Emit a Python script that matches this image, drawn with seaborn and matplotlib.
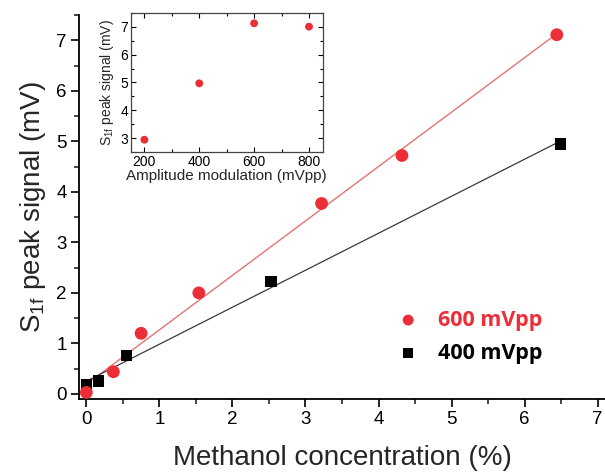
import matplotlib
matplotlib.use("Agg")
import matplotlib.pyplot as plt
import seaborn as sns
import numpy as np
import pandas as pd
from matplotlib.ticker import MultipleLocator

# ---- data ----
conc_600 = [0.0, 0.37, 0.75, 1.54, 3.22, 4.32, 6.44]
sig_600 = [0.03, 0.44, 1.2, 2.0, 3.77, 4.72, 7.11]
conc_400 = [0.0, 0.17, 0.55, 2.53, 6.49]
sig_400 = [0.19, 0.26, 0.76, 2.23, 4.95]
amp_mod = [200, 400, 600, 800]
amp_sig = [2.95, 4.97, 7.12, 7.0]
series_labels = ["600 mVpp", "400 mVpp"]
xticks_main = [0, 1, 2, 3, 4, 5, 6, 7]
yticks_main = [0, 1, 2, 3, 4, 5, 6, 7]
xticks_inset = [200, 400, 600, 800]
yticks_inset = [3, 4, 5, 6, 7]

RED = "#EC2F37"
RED_LINE = "#E87272"

sns.set_theme(style="ticks")
plt.rcParams['font.family'] = ['Liberation Sans', 'DejaVu Sans']
plt.rcParams['mathtext.fontset'] = 'custom'
plt.rcParams['mathtext.rm'] = 'Liberation Sans'

df600 = pd.DataFrame({"x": conc_600, "y": sig_600})
df400 = pd.DataFrame({"x": conc_400, "y": sig_400})
dfin = pd.DataFrame({"x": amp_mod, "y": amp_sig})

fig = plt.figure(figsize=(6.05, 4.75), dpi=100)
ax = fig.add_axes([0.1306, 0.16, 0.8694, 0.8084])

# fit lines
sns.regplot(data=df600, x="x", y="y", ax=ax, ci=None, scatter=False, truncate=True,
            line_kws=dict(color=RED_LINE, lw=1.0))
sns.regplot(data=df400, x="x", y="y", ax=ax, ci=None, scatter=False, truncate=True,
            line_kws=dict(color="#3a3a3a", lw=0.9))
sns.scatterplot(data=df400, x="x", y="y", ax=ax, marker="s", color="black", s=68,
                edgecolor="none", label=series_labels[1], zorder=3)
sns.scatterplot(data=df600, x="x", y="y", ax=ax, marker="o", color=RED, s=85,
                edgecolor="none", label=series_labels[0], zorder=4)

ax.set_xlim(-0.1, 7.1)
ax.set_ylim(-0.1, 7.5)
ax.set_xticks(xticks_main)
ax.set_yticks(yticks_main)
ax.xaxis.set_minor_locator(MultipleLocator(0.5))
ax.yaxis.set_minor_locator(MultipleLocator(0.5))
ax.tick_params(which="major", direction="out", length=6, width=1.2, labelsize=13.5,
               colors="black", pad=3)
ax.tick_params(which="minor", direction="out", length=3.5, width=1.2)
for s in ["top", "right"]:
    ax.spines[s].set_visible(False)
for s in ["left", "bottom"]:
    ax.spines[s].set_linewidth(1.3)
    ax.spines[s].set_color("black")
ax.set_xlabel("Methanol concentration (%)", fontsize=20, labelpad=12)
ax.set_ylabel(r"S$_{\mathregular{1f}}$ peak signal (mV)", fontsize=20, labelpad=6)

h, l = ax.get_legend_handles_labels()
order = [l.index(series_labels[0]), l.index(series_labels[1])]
leg = ax.legend([h[i] for i in order], [l[i] for i in order], frameon=False,
                loc="upper left", bbox_to_anchor=(0.548, 0.283), handletextpad=0.4,
                labelspacing=0.55, markerscale=0.85,
                prop=dict(family="Open Sans", weight="bold", size=15.5))
for txt, c in zip(leg.get_texts(), [RED, "black"]):
    txt.set_color(c)

# inset
axi = fig.add_axes([0.216, 0.6794, 0.3174, 0.2939])
sns.scatterplot(data=dfin, x="x", y="y", ax=axi, color=RED, s=32, edgecolor="none")
axi.set_xlim(150, 850)
axi.set_ylim(2.5, 7.5)
axi.set_xticks(xticks_inset)
axi.set_yticks(yticks_inset)
axi.xaxis.set_minor_locator(MultipleLocator(100))
axi.yaxis.set_minor_locator(MultipleLocator(0.5))
axi.tick_params(which="both", direction="in", top=True, right=True, labelsize=10,
                colors="black", pad=2)
axi.tick_params(which="major", length=3.5, width=0.8)
axi.tick_params(which="minor", length=2, width=0.8)
for s in axi.spines.values():
    s.set_linewidth(0.9)
    s.set_color("#444444")
axi.set_xlabel("Amplitude modulation (mVpp)", fontsize=11, labelpad=0)
axi.set_ylabel(r"S$_{\mathregular{1f}}$ peak signal (mV)", fontsize=10, labelpad=3)
axi.set_facecolor("white")

fig.savefig("out.png", dpi=100, facecolor="white")
